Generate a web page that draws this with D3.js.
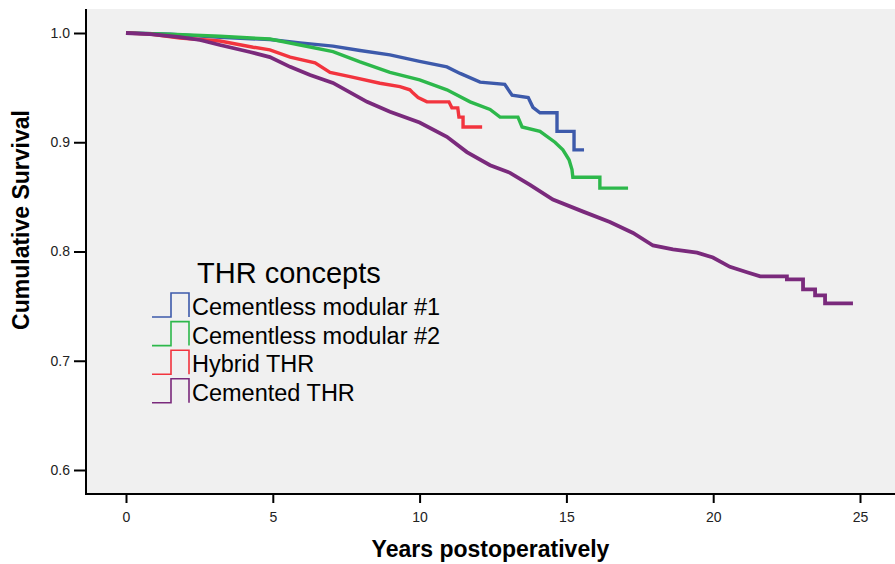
<html>
  <head>
    <meta charset="utf-8" />
    <style>
      body { margin: 0; background: #fff; }
      text { font-family: Arial, "Liberation Sans", sans-serif; }
    </style>
  </head>
  <body>
    <script src="https://d3js.org/d3.v7.min.js"></script>
    <script>
      // DATA
      const seriesNames = ["Cementless modular #1", "Cementless modular #2", "Hybrid THR", "Cemented THR"];
      const seriesColors = ["#3d5aab", "#2db84b", "#f2343e", "#7a2a7c"];

      const blueT = [0, 1.5, 3.2, 4.9, 5.93, 7.05, 7.97, 8.99, 10.0, 10.93, 11.38, 12.06, 12.9, 13.15, 13.7, 13.86, 14.1, 14.68, 14.68, 15.26, 15.26, 15.6];
      const blueS = [1, 0.999, 0.996, 0.994, 0.991, 0.988, 0.984, 0.98, 0.974, 0.969, 0.963, 0.955, 0.953, 0.943, 0.941, 0.932, 0.927, 0.927, 0.91, 0.91, 0.893, 0.893];

      const greenT = [0, 1.5, 3.2, 4.9, 5.93, 7.05, 7.97, 8.99, 10.0, 10.93, 11.72, 12.4, 12.74, 13.35, 13.49, 14.1, 14.61, 14.88, 15.09, 15.19, 15.22, 16.14, 16.14, 17.1];
      const greenS = [1, 0.999, 0.997, 0.9945, 0.989, 0.983, 0.9735, 0.964, 0.957, 0.948, 0.937, 0.93, 0.923, 0.923, 0.914, 0.91, 0.9, 0.893, 0.884, 0.875, 0.868, 0.868, 0.858, 0.858];

      const redT = [0, 0.82, 1.84, 3.2, 4.33, 4.9, 5.59, 6.44, 6.95, 7.63, 8.65, 9.33, 9.67, 9.78, 9.95, 10.25, 11.0, 11.1, 11.3, 11.34, 11.48, 11.48, 12.13];
      const redS = [1, 0.999, 0.9954, 0.9927, 0.987, 0.9845, 0.978, 0.9726, 0.964, 0.96, 0.954, 0.951, 0.948, 0.945, 0.941, 0.937, 0.937, 0.9315, 0.9315, 0.923, 0.923, 0.914, 0.914];

      const purpleT = [0, 0.82, 1.84, 2.52, 3.2, 4.22, 4.9, 5.59, 6.27, 7.05, 8.21, 8.99, 10.0, 10.93, 11.61, 12.4, 13.08, 13.76, 14.54, 15.57, 16.48, 17.27, 17.95, 18.63, 19.45, 19.99, 20.57, 21.15, 21.6, 22.51, 22.51, 23.06, 23.06, 23.47, 23.47, 23.81, 23.81, 24.76];
      const purpleS = [1, 0.999, 0.9963, 0.9936, 0.989, 0.9826, 0.978, 0.969, 0.9616, 0.9543, 0.937, 0.928, 0.918, 0.905, 0.891, 0.879, 0.872, 0.861, 0.8475, 0.8365, 0.827, 0.817, 0.8055, 0.802, 0.799, 0.7945, 0.786, 0.781, 0.7772, 0.7772, 0.7744, 0.7744, 0.7653, 0.7653, 0.7598, 0.7598, 0.7525, 0.7525];

      const xTicks = [0, 5, 10, 15, 20, 25];
      const yTicks = [0.6, 0.7, 0.8, 0.9, 1.0];

      const seriesT = [blueT, greenT, redT, purpleT];
      const seriesS = [blueS, greenS, redS, purpleS];

      // LAYOUT
      const width = 895, height = 564;
      const frame = { left: 86, top: 9, right: 895, bottom: 494 };

      const svg = d3.select("body").append("svg").attr("width", width).attr("height", height);

      const x = d3.scaleLinear().domain([0, 25]).range([126, 860]);
      const y = d3.scaleLinear().domain([0.6, 1.0]).range([470, 33]);

      svg.append("rect")
        .attr("x", frame.left).attr("y", frame.top)
        .attr("width", frame.right - frame.left).attr("height", frame.bottom - frame.top)
        .attr("fill", "#f0f0f0");

      // axes
      const xAxis = d3.axisBottom(x).tickValues(xTicks).tickFormat(d3.format("d")).tickSize(9).tickPadding(9);
      const yAxis = d3.axisLeft(y).tickValues(yTicks).tickFormat(d3.format(".1f")).tickSize(12).tickPadding(4);

      const gx = svg.append("g").attr("transform", `translate(0,${frame.bottom})`).call(xAxis);
      const gy = svg.append("g").attr("transform", `translate(${frame.left},0)`).call(yAxis);
      [gx, gy].forEach((g) => {
        g.select(".domain").remove();
        g.selectAll(".tick line").attr("stroke", "#000").attr("stroke-width", 2);
        g.selectAll(".tick text").attr("fill", "#222").style("font-size", "14px");
      });

      svg.append("line")
        .attr("x1", frame.left).attr("x2", frame.left)
        .attr("y1", frame.top).attr("y2", frame.bottom + 1)
        .attr("stroke", "#000").attr("stroke-width", 2);
      svg.append("line")
        .attr("x1", frame.left - 1).attr("x2", frame.right)
        .attr("y1", frame.bottom).attr("y2", frame.bottom)
        .attr("stroke", "#000").attr("stroke-width", 2);

      // axis titles
      svg.append("text")
        .attr("x", (frame.left + frame.right) / 2).attr("y", 557)
        .attr("text-anchor", "middle")
        .style("font-size", "23px").style("font-weight", "bold")
        .text("Years postoperatively");

      svg.append("text")
        .attr("transform", "translate(29,220) rotate(-90)")
        .attr("text-anchor", "middle")
        .style("font-size", "23px").style("font-weight", "bold")
        .text("Cumulative Survival");

      // survival curves
      const line = d3.line().x((d) => x(d[0])).y((d) => y(d[1]));

      seriesT.forEach((ts, i) => {
        const pts = ts.map((t, j) => [t, seriesS[i][j]]);
        svg.append("path")
          .datum(pts)
          .attr("d", line)
          .attr("fill", "none")
          .attr("stroke", seriesColors[i])
          .attr("stroke-width", i === 3 ? 3.8 : 3.4)
          .attr("stroke-linejoin", "miter");
      });

      // legend
      const legend = svg.append("g");
      legend.append("text")
        .attr("x", 197).attr("y", 283)
        .style("font-size", "29px")
        .text("THR concepts");

      seriesNames.forEach((name, i) => {
        const base = 317 + i * 28.6;
        legend.append("path")
          .attr("d", `M152,${base}H171V${base - 24}H189V${base}`)
          .attr("fill", "none")
          .attr("stroke", seriesColors[i])
          .attr("stroke-width", 1.6);
        legend.append("text")
          .attr("x", 192).attr("y", base - 2)
          .style("font-size", "23.5px")
          .text(name);
      });
    </script>
  </body>
</html>
